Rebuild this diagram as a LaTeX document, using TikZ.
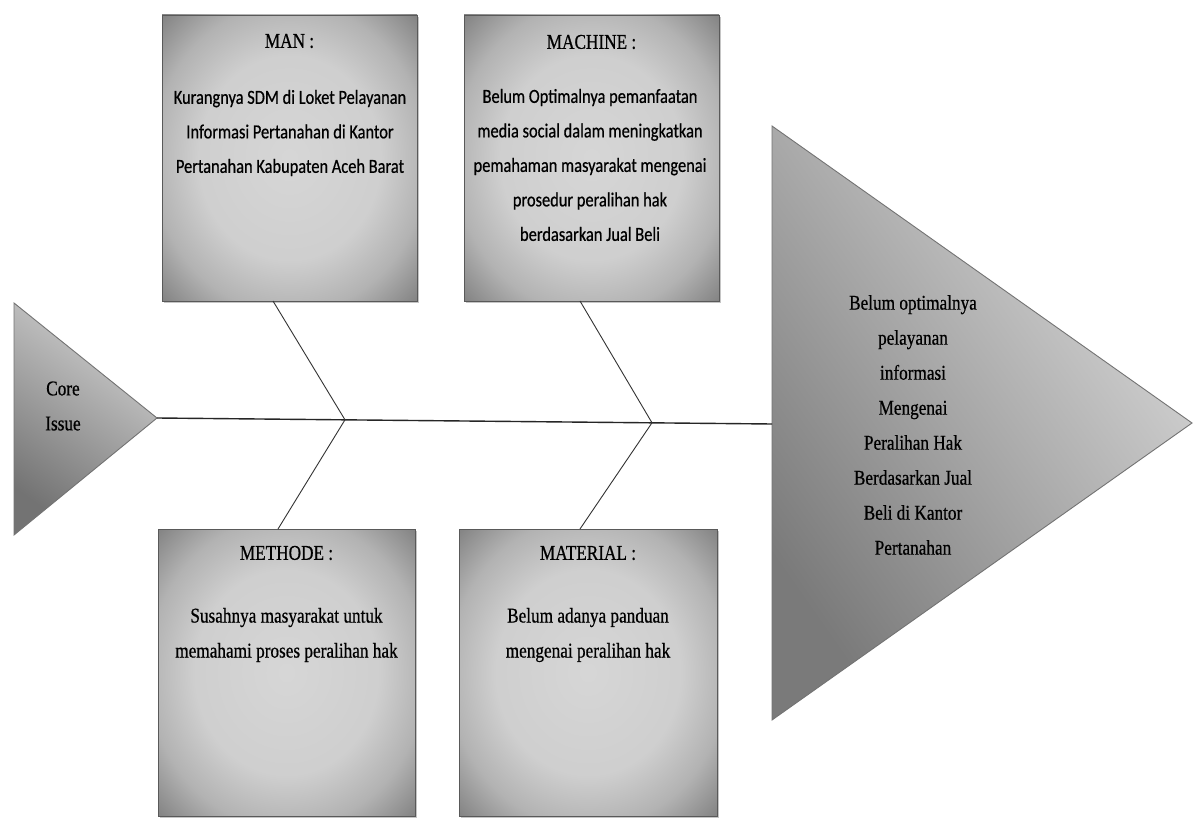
\documentclass[tikz,border=0pt]{standalone}
\usepackage{fontspec}
\setmainfont[FakeStretch=0.82,FakeBold=0.6]{Liberation Serif}
\newfontfamily\bodysans[FakeStretch=0.82,FakeBold=0.6]{Carlito}
\usetikzlibrary{shadows,calc}
\pgfdeclareradialshading{boxshade}{\pgfpoint{0bp}{0bp}}{color(0bp)=(black!16); color(18bp)=(black!19); color(27bp)=(black!30); color(35bp)=(black!48); color(50bp)=(black!52)}
\tikzset{
  causebox/.style={draw=black!65, line width=0.9pt, shading=boxshade, inner sep=0pt,
    drop shadow={shadow xshift=1.5pt, shadow yshift=-2pt, fill=black!50, opacity=0.45}},
  heading/.style={font=\fontsize{21}{25}\selectfont, inner sep=0pt},
  sansbody/.style={font=\bodysans\fontsize{20}{34.5}\selectfont, align=center, inner sep=0pt},
  serifbody/.style={font=\fontsize{21}{35}\selectfont, align=center, inner sep=0pt},
  bone/.style={draw=black!80, line width=0.9pt},
  spine/.style={draw=black!85, line width=1.4pt},
  headtri/.style={draw=black!55, line width=0.9pt}
}
\begin{document}
\begin{tikzpicture}[x=1pt,y=-1pt]
\useasboundingbox[fill=white] (0,0) rectangle (1197,818);

% cause boxes
\node[causebox, minimum width=255pt, minimum height=286pt] (man) at (289.5,158) {};
\node[causebox, minimum width=255pt, minimum height=286pt] (machine) at (591.5,158) {};
\node[causebox, minimum width=257pt, minimum height=287pt] (methode) at (286.5,672.5) {};
\node[causebox, minimum width=258pt, minimum height=287pt] (material) at (588,672.5) {};

% headings
\node[heading] (manh) at (289.5,41) {MAN :};
\node[heading] (machineh) at (591.5,42) {MACHINE :};
\node[heading] (methodeh) at (286.5,553) {METHODE :};
\node[heading] (materialh) at (588,553) {MATERIAL :};

% texts
\node[sansbody] (mant) at (290,133) {Kurangnya SDM di Loket Pelayanan\\Informasi Pertanahan di Kantor\\Pertanahan Kabupaten Aceh Barat};
\node[sansbody] (machinet) at (590,165) {Belum Optimalnya pemanfaatan\\media social dalam meningkatkan\\pemahaman masyarakat mengenai\\prosedur peralihan hak\\berdasarkan Jual Beli};
\node[serifbody] (methodet) at (286.5,635) {Susahnya masyarakat untuk\\memahami proses peralihan hak};
\node[serifbody] (materialt) at (588,635) {Belum adanya panduan\\mengenai peralihan hak};

% core issue triangle
\coordinate (ciA) at (14,303);
\coordinate (ciB) at (14,535);
\coordinate (ciTip) at (157,418);
\path[headtri, top color=black!18, bottom color=black!55, shading angle=-35] (ciA) -- (ciTip) -- (ciB) -- cycle;
\node[serifbody] (cit) at (63,406) {Core\\Issue};

% effect triangle
\coordinate (efA) at (772,126);
\coordinate (efB) at (772,720);
\coordinate (efTip) at (1192,423);
\coordinate (efIn) at (772,424);
\path[headtri, left color=black!52, right color=black!15, shading angle=125] (efA) -- (efTip) -- (efB) -- cycle;
\node[serifbody] (eft) at (913,425) {Belum optimalnya\\pelayanan\\informasi\\Mengenai\\Peralihan Hak\\Berdasarkan Jual\\Beli di Kantor\\Pertanahan};

% spine and bones
\draw[spine] (ciTip) -- (efIn);
\coordinate (j1) at (345,419.8);
\coordinate (j2) at (652,422.8);
\coordinate (b1t) at (273,301);
\coordinate (b1b) at (278,529);
\coordinate (b2t) at (580,301);
\coordinate (b2b) at (580,529);
\draw[bone] (b1t) -- (j1) -- (b1b);
\draw[bone] (b2t) -- (j2) -- (b2b);
\end{tikzpicture}
\end{document}
